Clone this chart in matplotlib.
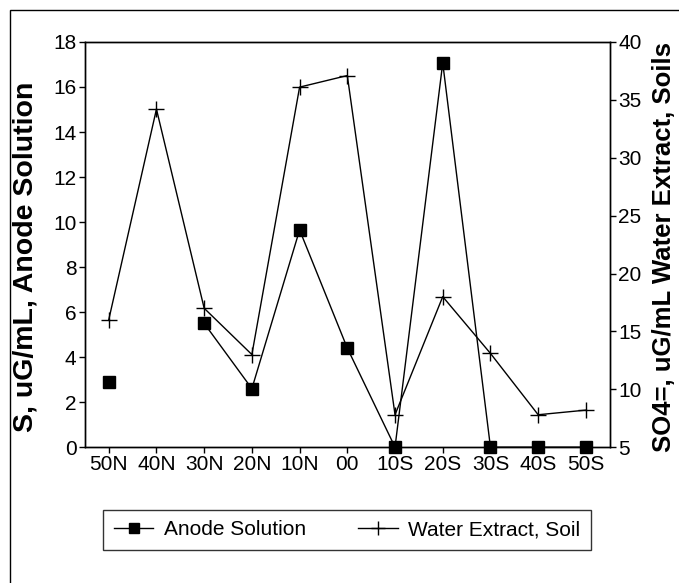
import matplotlib
matplotlib.use("Agg")
import matplotlib.pyplot as plt
import numpy as np
from matplotlib.lines import Line2D
from matplotlib.patches import Rectangle

plt.rcParams['font.family'] = ['Liberation Sans', 'DejaVu Sans']

sites = ['50N', '40N', '30N', '20N', '10N', '00', '10S', '20S', '30S', '40S', '50S']
anode = [2.9, np.nan, 5.5, 2.6, 9.65, 4.4, 0.0, 17.07, 0.0, 0.0, 0.0]
water = [16.0, 34.2, 17.0, 13.0, 36.1, 37.1, 7.8, 18.0, 13.1, 7.8, 8.2]

x = np.arange(len(sites))

fig = plt.figure(figsize=(6.79, 5.83), dpi=100)
ax = fig.add_axes([0.125, 0.233, 0.773, 0.695])
ax2 = ax.twinx()

ax.plot(x, anode, color='black', lw=1.0, marker='s', ms=8, mfc='black',
        clip_on=False, zorder=5)
ax2.plot(x, water, color='black', lw=1.0, marker='+', ms=11, mew=1.0,
         clip_on=False, zorder=5)

ax.set_xlim(-0.5, len(sites) - 0.5)
ax.set_ylim(0, 18)
ax.set_yticks(range(0, 19, 2))
ax2.set_ylim(5, 40)
ax2.set_yticks(range(5, 41, 5))
ax.set_xticks(x)
ax.set_xticklabels(sites)

for a in (ax, ax2):
    a.tick_params(direction='out', length=4, width=1, labelsize=15, pad=2)
    for s in a.spines.values():
        s.set_linewidth(1.0)

fig.text(0.037, 0.559, 'S, uG/mL, Anode Solution', rotation=90, ha='center',
         va='center', fontsize=20.5, fontweight='bold')
fig.text(0.978, 0.576, 'SO4=, uG/mL Water Extract, Soils', rotation=90,
         ha='center', va='center', fontsize=18.5, fontweight='bold')

handles = [
    Line2D([0], [0], color='black', lw=1.0, marker='s', ms=7),
    Line2D([0], [0], color='black', lw=1.0, marker='+', ms=10),
]
leg = fig.legend(handles, ['Anode Solution', 'Water Extract, Soil'], ncol=2,
                 loc='center', bbox_to_anchor=(0.511, 0.091), fontsize=15,
                 frameon=True, fancybox=False, edgecolor='black',
                 handlelength=1.9, handletextpad=0.5, columnspacing=2.5,
                 borderpad=0.5, borderaxespad=0.0)
leg.get_frame().set_linewidth(1.0)

# outer frame of the figure
fig.patches.append(Rectangle((0.015, -0.1), 1.1, 1.083, transform=fig.transFigure,
                             fill=False, edgecolor='black', lw=1.0))

fig.savefig('out.png', dpi=100)
